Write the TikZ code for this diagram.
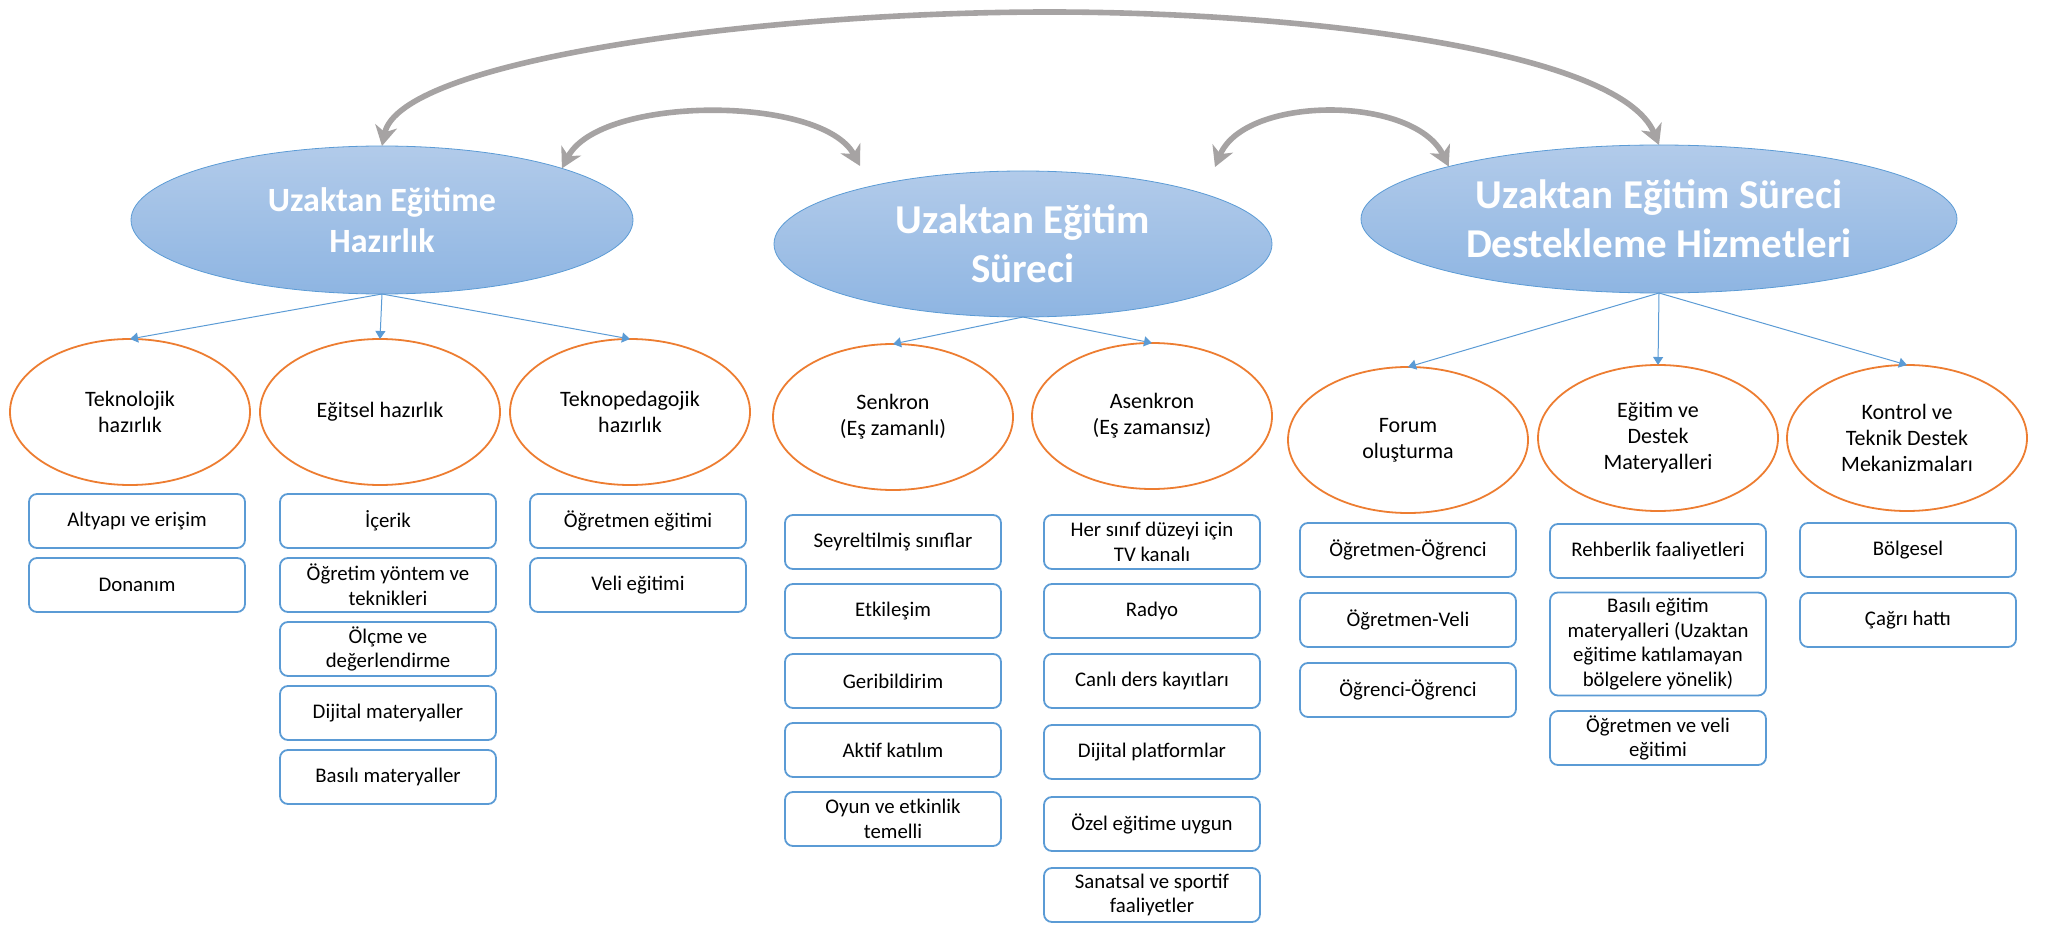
\documentclass[tikz,border=0pt]{standalone}
\usepackage{fontspec}
\setmainfont{Carlito}
\usetikzlibrary{arrows.meta,shapes.geometric,positioning}
\definecolor{boxblue}{HTML}{5B9BD5}
\definecolor{suborange}{HTML}{ED7D31}
\definecolor{swinggray}{RGB}{166,163,163}
\definecolor{topichi}{RGB}{178,203,234}
\definecolor{topiclo}{RGB}{142,181,226}
\tikzset{
  centered/.style = { align=center, anchor=center },
     topic/.style = { ellipse, centered, draw=boxblue, line width=0.4pt,
                      top color=topichi, bottom color=topiclo, text=white,
                      inner sep=0pt, outer sep=0pt,
                      font=\bfseries\fontsize{20.5}{24.5}\selectfont },
    branch/.style = { ellipse, centered, draw=suborange, line width=0.9pt, fill=white,
                      minimum width=120pt, minimum height=73pt,
                      inner sep=0pt, outer sep=0pt, font=\fontsize{11}{13}\selectfont },
      leaf/.style = { rectangle, rounded corners=4pt, centered, draw=boxblue,
                      line width=0.9pt, minimum width=108pt, minimum height=27pt,
                      inner sep=1pt, font=\fontsize{10.4}{12.3}\selectfont },
      feed/.style = { color=boxblue, line width=0.5pt, ->, >={Triangle[length=4pt,width=5pt]} },
     swing/.style = { line width=2.8pt, color=swinggray, <->,
                      >={Stealth[length=10pt,width=11pt,inset=3pt]} }
}

\begin{document}
\begin{tikzpicture}[x=0.5pt,y=-0.5pt]
  \useasboundingbox (0,0) rectangle (2046,925);

  % main topics
  \node[topic, minimum width=251pt, minimum height=74pt,
        font=\bfseries\fontsize{17}{20.5}\selectfont] (prep) at (382,220) {Uzaktan Eğitime\\Hazırlık};
  \node[topic, minimum width=249pt, minimum height=73pt] (proc) at (1023,244) {Uzaktan Eğitim\\Süreci};
  \node[topic, minimum width=298pt, minimum height=74pt] (supp) at (1659,219) {Uzaktan Eğitim Süreci\\Destekleme Hizmetleri};

  % branches
  \node[branch] (tech)  at (130,412)  {Teknolojik\\hazırlık};
  \node[branch] (edu)   at (380,412)  {Eğitsel hazırlık};
  \node[branch] (tped)  at (630,412)  {Teknopedagojik\\hazırlık};
  \node[branch] (sync)  at (893,417)  {Senkron\\(Eş zamanlı)};
  \node[branch] (async) at (1152,416) {Asenkron\\(Eş zamansız)};
  \node[branch] (forum) at (1408,440) {Forum\\oluşturma};
  \node[branch] (mat)   at (1658,438) {Eğitim ve\\Destek\\Materyalleri};
  \node[branch] (ctrl)  at (1907,438) {Kontrol ve\\Teknik Destek\\Mekanizmaları};

  % leaves
  \node[leaf] (tech1) at (137,521) {Altyapı ve erişim};
  \node[leaf] (tech2) at (137,585) {Donanım};

  \node[leaf] (edu1) at (388,521) {İçerik};
  \node[leaf] (edu2) at (388,585) {Öğretim yöntem ve\\teknikleri};
  \node[leaf] (edu3) at (388,649) {Ölçme ve\\değerlendirme};
  \node[leaf] (edu4) at (388,713) {Dijital materyaller};
  \node[leaf] (edu5) at (388,777) {Basılı materyaller};

  \node[leaf] (tped1) at (638,521) {Öğretmen eğitimi};
  \node[leaf] (tped2) at (638,585) {Veli eğitimi};

  \node[leaf] (sync1) at (893,542) {Seyreltilmiş sınıflar};
  \node[leaf] (sync2) at (893,611) {Etkileşim};
  \node[leaf] (sync3) at (893,681) {Geribildirim};
  \node[leaf] (sync4) at (893,750) {Aktif katılım};
  \node[leaf] (sync5) at (893,819) {Oyun ve etkinlik\\temelli};

  \node[leaf] (async1) at (1152,542) {Her sınıf düzeyi için\\TV kanalı};
  \node[leaf] (async2) at (1152,611) {Radyo};
  \node[leaf] (async3) at (1152,681) {Canlı ders kayıtları};
  \node[leaf] (async4) at (1152,752) {Dijital platformlar};
  \node[leaf] (async5) at (1152,824) {Özel eğitime uygun};
  \node[leaf] (async6) at (1152,895) {Sanatsal ve sportif\\faaliyetler};

  \node[leaf] (forum1) at (1408,550) {Öğretmen-Öğrenci};
  \node[leaf] (forum2) at (1408,620) {Öğretmen-Veli};
  \node[leaf] (forum3) at (1408,690) {Öğrenci-Öğrenci};

  \node[leaf] (mat1) at (1658,551) {Rehberlik faaliyetleri};
  \node[leaf, minimum height=51.5pt] (mat2) at (1658,644) {Basılı eğitim\\materyalleri (Uzaktan\\eğitime katılamayan\\bölgelere yönelik)};
  \node[leaf] (mat3) at (1658,738) {Öğretmen ve veli\\eğitimi};

  \node[leaf] (ctrl1) at (1908,550) {Bölgesel};
  \node[leaf] (ctrl2) at (1908,620) {Çağrı hattı};

  % thin connectors
  \draw[feed] (prep.south) -- (tech.north);
  \draw[feed] (prep.south) -- (edu.north);
  \draw[feed] (prep.south) -- (tped.north);
  \draw[feed] (proc.south) -- (sync.north);
  \draw[feed] (proc.south) -- (async.north);
  \draw[feed] (supp.south) -- (forum.north);
  \draw[feed] (supp.south) -- (mat.north);
  \draw[feed] (supp.south) -- (ctrl.north);

  % curved arrows between the topics
  \coordinate (apex)  at (1050,12);
  \coordinate (procL) at (860,166);
  \coordinate (procR) at (1215,167);
  \draw[swing] (prep.north) .. controls (400,60) and (760,12) .. (apex)
                            .. controls (1300,12) and (1620,50) .. (supp.north);
  \draw[swing] (prep.16) .. controls (600,95) and (822,95) .. (procL);
  \draw[swing] (procR) .. controls (1245,95) and (1414,95) .. (supp.166);
\end{tikzpicture}
\end{document}
